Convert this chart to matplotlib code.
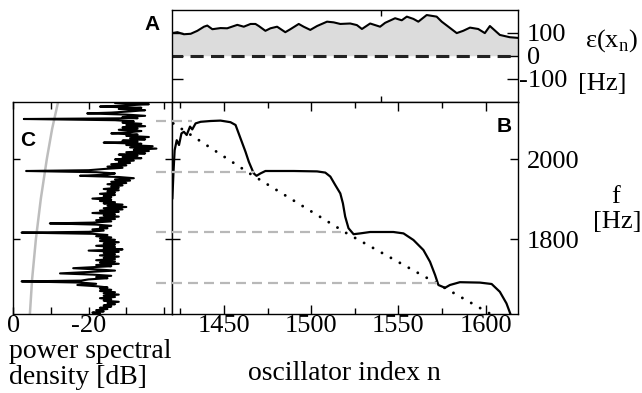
# Three-panel figure: deviation (A), frequency vs oscillator index (B),
# and the power spectral density turned on its side (C)

import matplotlib
matplotlib.use('Agg')
import matplotlib.pyplot as plt
import matplotlib.transforms as mtransforms
from matplotlib.ticker import MultipleLocator, FixedLocator

plt.rcParams['font.family'] = ['Liberation Serif', 'DejaVu Serif']
plt.rcParams['axes.unicode_minus'] = False
plt.rcParams['mathtext.fontset'] = 'custom'
plt.rcParams['mathtext.rm'] = 'Liberation Serif'

# ----- DATA ------------------------------------------------------------------------
# panel A: eps(x_n) [Hz] along the oscillator index
a_n = [1420.3, 1423.4, 1427.1, 1431.0, 1434.8, 1438.6, 1440.5, 1443.4, 1448.1, 1451.9,
       1457.7, 1461.4, 1465.3, 1468.1, 1470.0, 1473.8, 1476.7, 1480.5, 1485.2, 1488.1,
       1492.9, 1495.7, 1499.5, 1503.4, 1509.1, 1512.9, 1516.7, 1522.4, 1526.2, 1529.1,
       1533.8, 1539.5, 1542.4, 1548.1, 1551.9, 1554.8, 1558.6, 1561.4, 1566.2, 1571.9,
       1574.8, 1578.6, 1583.4, 1587.1, 1591.0, 1595.7, 1599.5, 1602.4, 1608.1, 1613.8,
       1618.6]
a_eps = [99, 103, 94, 96, 109, 127, 132, 116, 121, 120,
         135, 127, 139, 139, 130, 109, 120, 127, 103, 116,
         139, 127, 113, 130, 149, 146, 139, 141, 134, 117,
         141, 127, 144, 164, 155, 171, 161, 149, 178, 171,
         149, 127, 99, 109, 123, 117, 99, 130, 91, 81,
         78]
a_tick = [1540]

# panel B: oscillator frequency f [Hz]
b_n = [1420.5, 1421.1, 1421.8, 1423.0, 1424.3, 1425.7, 1427.1, 1428.7, 1430.6, 1431.9,
       1433.8, 1436.7, 1442.4, 1448.1, 1453.8, 1456.7, 1459.5, 1462.4, 1464.3, 1467.1,
       1468.7, 1471.0, 1473.8, 1490.0, 1503.4, 1508.1, 1511.0, 1513.8, 1516.7, 1518.2,
       1519.5, 1521.4, 1524.3, 1528.1, 1533.8, 1547.1, 1552.9, 1558.6, 1564.3, 1568.1,
       1571.0, 1572.9, 1576.7, 1579.5, 1585.2, 1596.7, 1603.4, 1608.1, 1611.9, 1614.2]
b_f = [1902, 1964, 2022, 2047, 2035, 2064, 2068, 2060, 2081, 2074,
       2089, 2093, 2095, 2096, 2092, 2085, 2052, 2018, 1993, 1964,
       1958, 1964, 1970, 1970, 1969, 1966, 1956, 1935, 1914, 1889,
       1856, 1827, 1812, 1814, 1817.5, 1817.5, 1814, 1797.5, 1772.5, 1743,
       1710, 1685, 1678, 1685, 1692, 1691, 1687.5, 1668, 1639, 1612]

# uncoupled (characteristic) frequencies, dotted
dot_n = [1421, 1465.3, 1520.5, 1572, 1603, 1625]
dot_f = [2089, 1962.5, 1814, 1689, 1612, 1560]

# plateau frequencies (grey dashed guides) and where each guide ends
res_f = [2095, 1967, 1817.5, 1691]
res_n_end = [1432, 1467, 1517, 1572]
guide_start = 1411

# panel C: power spectral density [dB]
c_f = [2143, 2140, 2137, 2134, 2131, 2128, 2125, 2122, 2119, 2116,
       2114, 2111, 2108, 2105, 2102, 2100, 2097, 2094, 2091, 2088,
       2085, 2082, 2079, 2076, 2073, 2070, 2067, 2064, 2061, 2058,
       2055, 2052, 2049, 2046, 2043, 2041, 2038, 2035, 2032, 2029,
       2026, 2023, 2020, 2017, 2014, 2011, 2008, 2005, 2002, 1999,
       1996, 1993, 1990, 1987, 1984, 1981, 1978, 1975, 1972, 1970,
       1967, 1964, 1961, 1958, 1955, 1952, 1949, 1946, 1943, 1940,
       1937, 1934, 1931, 1928, 1925, 1922, 1919, 1916, 1913, 1910,
       1907, 1904, 1901, 1898, 1895, 1892, 1889, 1886, 1883, 1880,
       1877, 1874, 1871, 1868, 1865, 1862, 1859, 1856, 1853, 1850,
       1847, 1844, 1841, 1839, 1836, 1833, 1830, 1827, 1824, 1821,
       1818, 1816, 1813, 1810, 1807, 1804, 1801, 1798, 1795, 1792,
       1789, 1786, 1783, 1780, 1777, 1774, 1771, 1768, 1765, 1762,
       1759, 1756, 1753, 1750, 1747, 1744, 1741, 1738, 1735, 1732,
       1729, 1727, 1724, 1721, 1718, 1714, 1711, 1708, 1705, 1702,
       1699, 1696, 1694, 1691, 1688, 1685, 1682, 1679, 1676, 1673,
       1670, 1667, 1664, 1661, 1658, 1655, 1652, 1649, 1646, 1643,
       1640, 1637, 1634, 1631, 1628, 1625, 1622, 1619, 1616, 1613]
c_db = [-33, -27, -36, -30, -23, -34, -28, -35, -31, -26,
        -19.6, -30, -35, -29, -33, -2.8, -27, -32, -29, -34,
        -30, -35, -29, -33, -28, -34, -31, -26, -33, -30,
        -36, -31, -35, -29, -33, -24, -34, -30, -37, -31,
        -38, -32, -36, -30, -35, -28, -33, -29, -34, -27,
        -32, -28, -31, -26, -30, -25, -29, -24, -20, -3.4,
        -22, -27, -25, -17.7, -28, -32, -27, -31, -26, -30,
        -25, -29, -26, -28, -24, -28, -25, -27, -23, -27,
        -24, -26, -21, -26, -23, -27, -24, -29, -25, -30,
        -24, -29, -23, -28, -21, -27, -24, -28, -23, -27,
        -22, -26, -21, -9.7, -22, -26, -23, -25, -21, -24,
        -20, -2.2, -21, -25, -22, -26, -23, -27, -23, -28,
        -24, -27, -22, -27, -24, -29, -20, -28, -24, -27,
        -23, -28, -24, -27, -22, -27, -23, -28, -22, -26,
        -20, -15.9, -22, -27, -21, -12.4, -21, -26, -22, -25,
        -20, -18, -2.2, -18, -22, -17, -22, -25, -23, -26,
        -23, -27, -24, -28, -24, -27, -23, -26, -24, -28,
        -25, -27, -24, -26, -23, -25, -22, -24, -21, -23]

# grey reference curve in panel C
grey_f = [2143, 2075, 2000, 1900, 1800, 1700, 1612]
grey_db = [-11.9, -10.3, -8.9, -7.3, -6.0, -5.0, -4.4]

# ----- LAYOUT ----------------------------------------------------------------------
W, H = 642, 393


def box(l, t, r, b):
    return [l / W, 1 - b / H, (r - l) / W, (b - t) / H]


def px(x, y):
    return x / W, 1 - y / H


fig = plt.figure(figsize=(W / 100, H / 100), dpi=100)
axC = fig.add_axes(box(13.3, 102, 171.5, 314))
axA = fig.add_axes(box(171.5, 10, 518, 101.5))
axB = fig.add_axes(box(171.5, 102, 518, 314))

tsize = 19
xlim = (1420, 1618.5)
flim = (1612.5, 2142.5)

# ----- PANEL A ---------------------------------------------------------------------
axA.fill_between(a_n, 0, a_eps, color='#dcdcdc', lw=0)
axA.plot(a_n, a_eps, color='black', lw=1.5)
axA.axhline(0, color='#222222', lw=2.2, linestyle=(0.8, (4.3, 2.4)))
axA.set_xlim(*xlim)
axA.set_ylim(-200, 200)
axA.xaxis.set_major_locator(FixedLocator(a_tick))
axA.set_xticklabels([])
axA.set_yticks([-100, 0, 100])
axA.set_yticklabels(['-100', '0', '100'])
axA.tick_params(axis='x', direction='in', top=True, length=4, width=1)
axA.tick_params(axis='y', direction='in', left=True, right=True, labelleft=False,
                labelright=True, length=8, width=1, labelsize=tsize, pad=6.5)
# the minus of "-100" hangs out to the left of the digits
lab = axA.get_yticklabels()[0]
lab.set_transform(lab.get_transform() +
                  mtransforms.ScaledTranslation(-8 / 100, 0, fig.dpi_scale_trans))

# ----- PANEL B ---------------------------------------------------------------------
for f, n_end in zip(res_f, res_n_end):
    axB.plot([guide_start, n_end], [f, f], color='#b8b8b8', lw=1.6,
             linestyle=(0, (4.5, 2.7)), clip_on=False, zorder=5)
axB.plot(dot_n, dot_f, color='black', lw=2.1, linestyle=(0, (0.01, 3.5)),
         dash_capstyle='round')
axB.plot(b_n, b_f, color='black', lw=1.6)
axB.set_xlim(*xlim)
axB.set_ylim(*flim)
axB.xaxis.set_major_locator(MultipleLocator(50))
axB.xaxis.set_minor_locator(MultipleLocator(25))
axB.set_yticks([1800, 2000])
axB.tick_params(axis='x', which='major', direction='in', top=True, length=6.5,
                width=1, labelsize=tsize, pad=1)
axB.tick_params(axis='x', which='minor', direction='in', top=True, length=4.5, width=1)
axB.tick_params(axis='y', direction='in', left=True, right=True, labelleft=False,
                labelright=True, length=6, width=1, labelsize=tsize, pad=6.5)

# ----- PANEL C ---------------------------------------------------------------------
axC.plot(grey_db, grey_f, color='#bdbdbd', lw=1.8)
axC.plot(c_db, c_f, color='black', lw=1.5)
axC.set_xlim(0, -42)
axC.set_ylim(*flim)
axC.set_xticks([0, -10, -20, -30, -40])
axC.set_xticklabels(['0', '', '-20', '', ''])
axC.set_yticks([1800, 2000])
axC.set_yticklabels([])
axC.tick_params(axis='x', direction='in', top=True, length=5, width=1,
                labelsize=tsize, pad=1)
axC.tick_params(axis='y', direction='in', left=True, right=True, length=5, width=1)

for ax in (axA, axB, axC):
    for s in ax.spines.values():
        s.set_linewidth(1.0)

# ----- LABELS ----------------------------------------------------------------------
bold = dict(fontfamily='Liberation Sans', fontweight='bold', fontsize=15,
            ha='center', va='center')
fig.text(*px(152.5, 24), 'A', **bold)
fig.text(*px(504, 126), 'B', **bold)
fig.text(*px(27.5, 140), 'C', **bold)

fig.text(*px(585, 47), r'ε(x$_{\mathregular{n}}$)', fontsize=19, va='baseline', ha='left')
fig.text(*px(602, 84), '[Hz]', fontsize=19, va='center', ha='center')

fig.text(*px(616, 197), 'f', fontsize=19, va='center', ha='center')
fig.text(*px(617, 222), '[Hz]', fontsize=19, va='center', ha='center')

fig.text(*px(344.75, 373), 'oscillator index n', fontsize=20, va='center', ha='center')
fig.text(*px(9, 352), 'power spectral', fontsize=20, va='center', ha='left')
fig.text(*px(9, 378), 'density [dB]', fontsize=20, va='center', ha='left')

fig.savefig('out.png', dpi=100)
